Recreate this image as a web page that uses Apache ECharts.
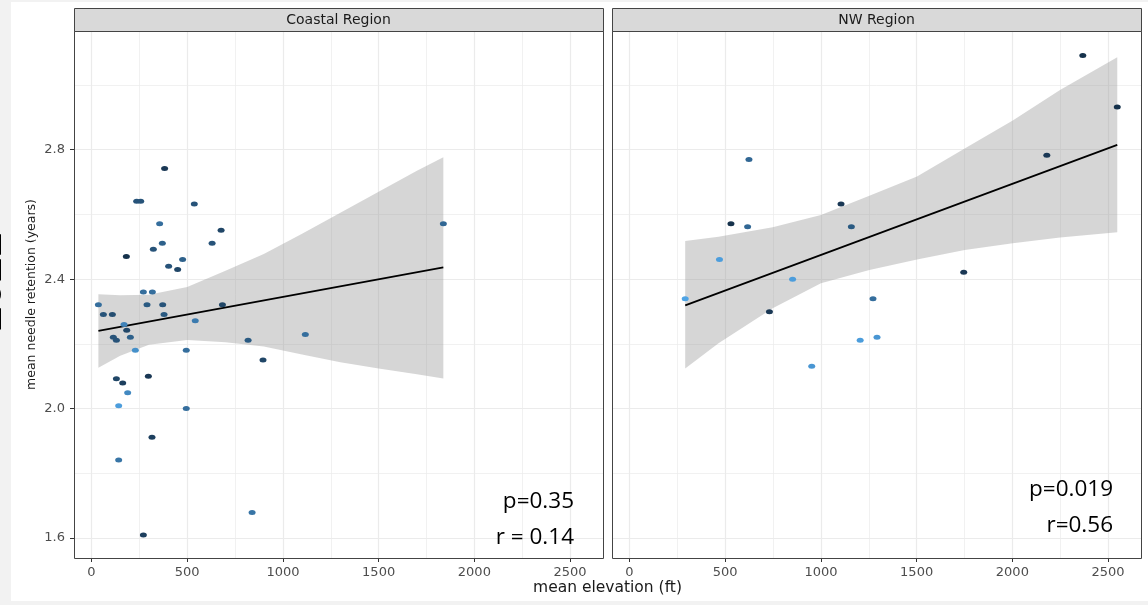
<!DOCTYPE html>
<html>
<head>
<meta charset="utf-8">
<title>Needle retention vs elevation</title>
<script src="https://cdn.jsdelivr.net/npm/echarts@6/dist/echarts.min.js"></script>
<style>
  html, body { margin: 0; padding: 0; background: #fff; }
  #chart { width: 1148px; height: 605px; }
</style>
</head>
<body>
<div id="chart"></div>
<script>
// facet names
const regions = ['Coastal Region', 'NW Region'];

// Coastal stands: mean elevation (ft), needle retention (years), colour shade (0 dark .. 1 light)
const coastalElev = [382, 236, 257, 537, 356, 677, 323, 370, 630, 182, 476, 403, 450, 271, 318, 36, 290, 372, 684, 62, 109, 379, 170, 542, 184, 114, 130, 203, 818, 229, 495, 896, 130, 163, 297, 189, 142, 495, 316, 142, 839, 271, 1117, 1838];
const coastalRet = [2.742, 2.641, 2.641, 2.632, 2.571, 2.551, 2.492, 2.511, 2.511, 2.470, 2.461, 2.440, 2.430, 2.360, 2.360, 2.321, 2.321, 2.321, 2.321, 2.291, 2.291, 2.291, 2.260, 2.271, 2.242, 2.220, 2.211, 2.220, 2.211, 2.180, 2.180, 2.150, 2.092, 2.079, 2.100, 2.049, 2.009, 2.000, 1.911, 1.841, 1.679, 1.609, 2.229, 2.571];
const coastalShade = [0.1, 0.3, 0.3, 0.3, 0.5, 0.2, 0.3, 0.4, 0.3, 0.05, 0.4, 0.3, 0.2, 0.5, 0.5, 0.5, 0.35, 0.3, 0.2, 0.3, 0.25, 0.35, 0.65, 0.6, 0.2, 0.3, 0.3, 0.4, 0.35, 0.75, 0.5, 0.2, 0.2, 0.15, 0.1, 0.7, 0.85, 0.5, 0.15, 0.55, 0.55, 0.15, 0.5, 0.45];

// NW stands
const nwElev = [2368, 2548, 2180, 624, 1105, 530, 617, 1159, 470, 852, 1746, 291, 1272, 731, 1205, 1293, 952];
const nwRet = [3.091, 2.932, 2.783, 2.770, 2.632, 2.571, 2.562, 2.562, 2.461, 2.400, 2.421, 2.339, 2.339, 2.299, 2.211, 2.220, 2.131];
const nwShade = [0.05, 0.05, 0.1, 0.45, 0.1, 0.05, 0.45, 0.35, 0.85, 0.85, 0.1, 0.9, 0.5, 0.1, 0.85, 0.8, 0.8];

// linear fits (end points) and 95% bands
const coastalFitElev = [36, 1838];
const coastalFitRet = [2.240, 2.436];
const coastalBandElev = [36, 150, 300, 500, 700, 900, 1100, 1300, 1500, 1700, 1838];
const coastalBandLo = [2.126, 2.163, 2.197, 2.212, 2.205, 2.192, 2.167, 2.143, 2.124, 2.106, 2.093];
const coastalBandHi = [2.353, 2.350, 2.352, 2.376, 2.426, 2.478, 2.540, 2.605, 2.670, 2.735, 2.777];

const nwFitElev = [291, 2548];
const nwFitRet = [2.319, 2.815];
const nwBandElev = [291, 465, 748, 1000, 1253, 1502, 1751, 2002, 2249, 2548];
const nwBandLo = [2.124, 2.202, 2.310, 2.387, 2.428, 2.461, 2.490, 2.511, 2.529, 2.545];
const nwBandHi = [2.518, 2.531, 2.560, 2.598, 2.658, 2.717, 2.804, 2.890, 2.985, 3.086];

// axis ticks
const elevTicks = [0, 500, 1000, 1500, 2000, 2500];
const elevMinor = [250, 750, 1250, 1750, 2250];
const retTicks = [1.6, 2.0, 2.4, 2.8];
const retMinor = [1.8, 2.2, 2.6, 3.0];

// stats written in each panel
const statP = ['p=0.35', 'p=0.019'];
const statR = ['r = 0.14', 'r=0.56'];

// ---- layout ----
const panelLeft = [74, 612];
const PANEL_TOP = 31, PANEL_W = 529, PANEL_H = 527, STRIP_TOP = 8;
const X_MIN = -91.4, X_MAX = 2672;
const Y_MIN = 1.538, Y_MAX = 3.167;
const FONT = 'DejaVu Sans';

const panels = [
  { elev: coastalElev, ret: coastalRet, shade: coastalShade, fitElev: coastalFitElev, fitRet: coastalFitRet,
    bandElev: coastalBandElev, bandLo: coastalBandLo, bandHi: coastalBandHi },
  { elev: nwElev, ret: nwRet, shade: nwShade, fitElev: nwFitElev, fitRet: nwFitRet,
    bandElev: nwBandElev, bandLo: nwBandLo, bandHi: nwBandHi }
];

const chart = echarts.init(document.getElementById('chart'));

function gridLines() {
  const d = [];
  elevTicks.forEach(v => d.push({ xAxis: v, lineStyle: { color: '#ebebeb', width: 1.2, type: 'solid' } }));
  elevMinor.forEach(v => d.push({ xAxis: v, lineStyle: { color: '#ebebeb', width: 0.7, type: 'solid' } }));
  retTicks.forEach(v => d.push({ yAxis: v, lineStyle: { color: '#ebebeb', width: 1.2, type: 'solid' } }));
  retMinor.forEach(v => d.push({ yAxis: v, lineStyle: { color: '#ebebeb', width: 0.7, type: 'solid' } }));
  return d;
}

const grids = [], xAxes = [], yAxes = [], series = [], scatterIdx = [];
const graphics = [
  // light frame around the screenshot
  { type: 'rect', shape: { x: 0, y: 0, width: 11, height: 605 }, style: { fill: '#f2f2f2' }, z: 0 },
  { type: 'rect', shape: { x: 0, y: 0, width: 1148, height: 2 }, style: { fill: '#f2f2f2' }, z: 0 },
  { type: 'rect', shape: { x: 0, y: 601, width: 1148, height: 4 }, style: { fill: '#f2f2f2' }, z: 0 },
  { type: 'text', x: 11, y: 282, rotation: Math.PI / 2, z: 1,
    style: { text: '2021', fill: '#000', fontSize: 44, fontWeight: 'bold', fontFamily: 'Liberation Sans',
             align: 'center', verticalAlign: 'bottom' } },
  { type: 'text', x: 607.5, y: 588, z: 10,
    style: { text: 'mean elevation (ft)', fill: '#1a1a1a', fontSize: 15.5, fontFamily: FONT,
             align: 'center', verticalAlign: 'middle' } }
];

panels.forEach((p, i) => {
  const left = panelLeft[i];
  grids.push({ left: left, top: PANEL_TOP, width: PANEL_W, height: PANEL_H, show: false });

  xAxes.push({
    type: 'value', gridIndex: i, min: X_MIN, max: X_MAX,
    splitLine: { show: false },
    axisLine: { show: false, onZero: false },
    axisTick: { show: true, length: 4, lineStyle: { color: '#333' }, customValues: elevTicks },
    axisLabel: { customValues: elevTicks, color: '#4d4d4d', fontSize: 13, fontFamily: FONT, margin: 8,
                 formatter: v => String(v) }
  });

  yAxes.push(Object.assign({
    type: 'value', gridIndex: i, min: Y_MIN, max: Y_MAX,
    splitLine: { show: false },
    axisLine: { show: false, onZero: false },
    axisTick: i === 0 ? { show: true, length: 4, lineStyle: { color: '#333' }, customValues: retTicks } : { show: false },
    axisLabel: i === 0 ? { customValues: retTicks, color: '#4d4d4d', fontSize: 13, fontFamily: FONT, margin: 9,
                           formatter: v => v.toFixed(1) } : { show: false }
  }, i === 0 ? {
    name: 'mean needle retention (years)', nameLocation: 'middle', nameGap: 36, nameRotate: 90,
    nameTextStyle: { color: '#1a1a1a', fontSize: 12.5, fontFamily: FONT }
  } : {}));

  // background grid lines
  series.push({
    type: 'line', xAxisIndex: i, yAxisIndex: i, data: [], z: 1, silent: true,
    markLine: { silent: true, z: 0, symbol: ['none', 'none'], label: { show: false }, animation: false,
                emphasis: { disabled: true }, data: gridLines() }
  });

  // confidence band
  series.push({
    type: 'custom', xAxisIndex: i, yAxisIndex: i, z: 2, silent: true,
    data: p.bandElev.map((x, k) => [x, p.bandLo[k], p.bandHi[k]]),
    encode: { x: 0, y: [1, 2] },
    renderItem: (params, api) => {
      if (params.dataIndexInside !== 0) return null;
      const pts = [];
      p.bandElev.forEach((x, k) => pts.push(api.coord([x, p.bandHi[k]])));
      for (let k = p.bandElev.length - 1; k >= 0; k--) pts.push(api.coord([p.bandElev[k], p.bandLo[k]]));
      return { type: 'polygon', shape: { points: pts }, style: { fill: 'rgba(153,153,153,0.4)' } };
    }
  });

  // regression line
  series.push({
    type: 'line', xAxisIndex: i, yAxisIndex: i, z: 3, silent: true, symbol: 'none',
    data: p.fitElev.map((x, k) => [x, p.fitRet[k]]),
    lineStyle: { color: '#000', width: 1.8 }
  });

  // points
  scatterIdx.push(series.length);
  series.push({
    type: 'scatter', xAxisIndex: i, yAxisIndex: i, z: 4,
    symbolSize: [7, 5],
    itemStyle: { opacity: 1 },
    data: p.elev.map((x, k) => [x, p.ret[k], p.shade[k]])
  });

  // facet strip
  graphics.push({ type: 'rect', z: 20, shape: { x: left + 0.5, y: STRIP_TOP + 0.5, width: PANEL_W, height: PANEL_TOP - STRIP_TOP },
                  style: { fill: '#d9d9d9', stroke: '#444', lineWidth: 1 } });
  graphics.push({ type: 'text', z: 21, x: left + PANEL_W / 2, y: (STRIP_TOP + PANEL_TOP) / 2 + 0.5,
                  style: { text: regions[i], fill: '#1a1a1a', fontSize: 14, fontFamily: FONT, align: 'center', verticalAlign: 'middle' } });
  // panel border
  graphics.push({ type: 'rect', z: 20, shape: { x: left + 0.5, y: PANEL_TOP + 0.5, width: PANEL_W, height: PANEL_H },
                  style: { fill: 'none', stroke: '#444', lineWidth: 1 } });
  // stats
  const statX = i === 0 ? 574 : 1113;
  const statY = i === 0 ? [502, 538] : [490, 526];
  graphics.push({ type: 'text', z: 22, x: statX, y: statY[0],
                  style: { text: statP[i], fill: '#000', fontSize: 22.5, fontFamily: 'Open Sans', align: 'right', verticalAlign: 'middle' } });
  graphics.push({ type: 'text', z: 22, x: statX, y: statY[1],
                  style: { text: statR[i], fill: '#000', fontSize: 22.5, fontFamily: 'Open Sans', align: 'right', verticalAlign: 'middle' } });
});

chart.setOption({
  animation: false,
  backgroundColor: '#fff',
  grid: grids,
  xAxis: xAxes,
  yAxis: yAxes,
  visualMap: {
    type: 'continuous', show: false, dimension: 2, min: 0, max: 1,
    seriesIndex: scatterIdx,
    inRange: { color: ['#132B43', '#56B1F7'] }
  },
  graphic: { elements: graphics },
  series: series
});
</script>
</body>
</html>
